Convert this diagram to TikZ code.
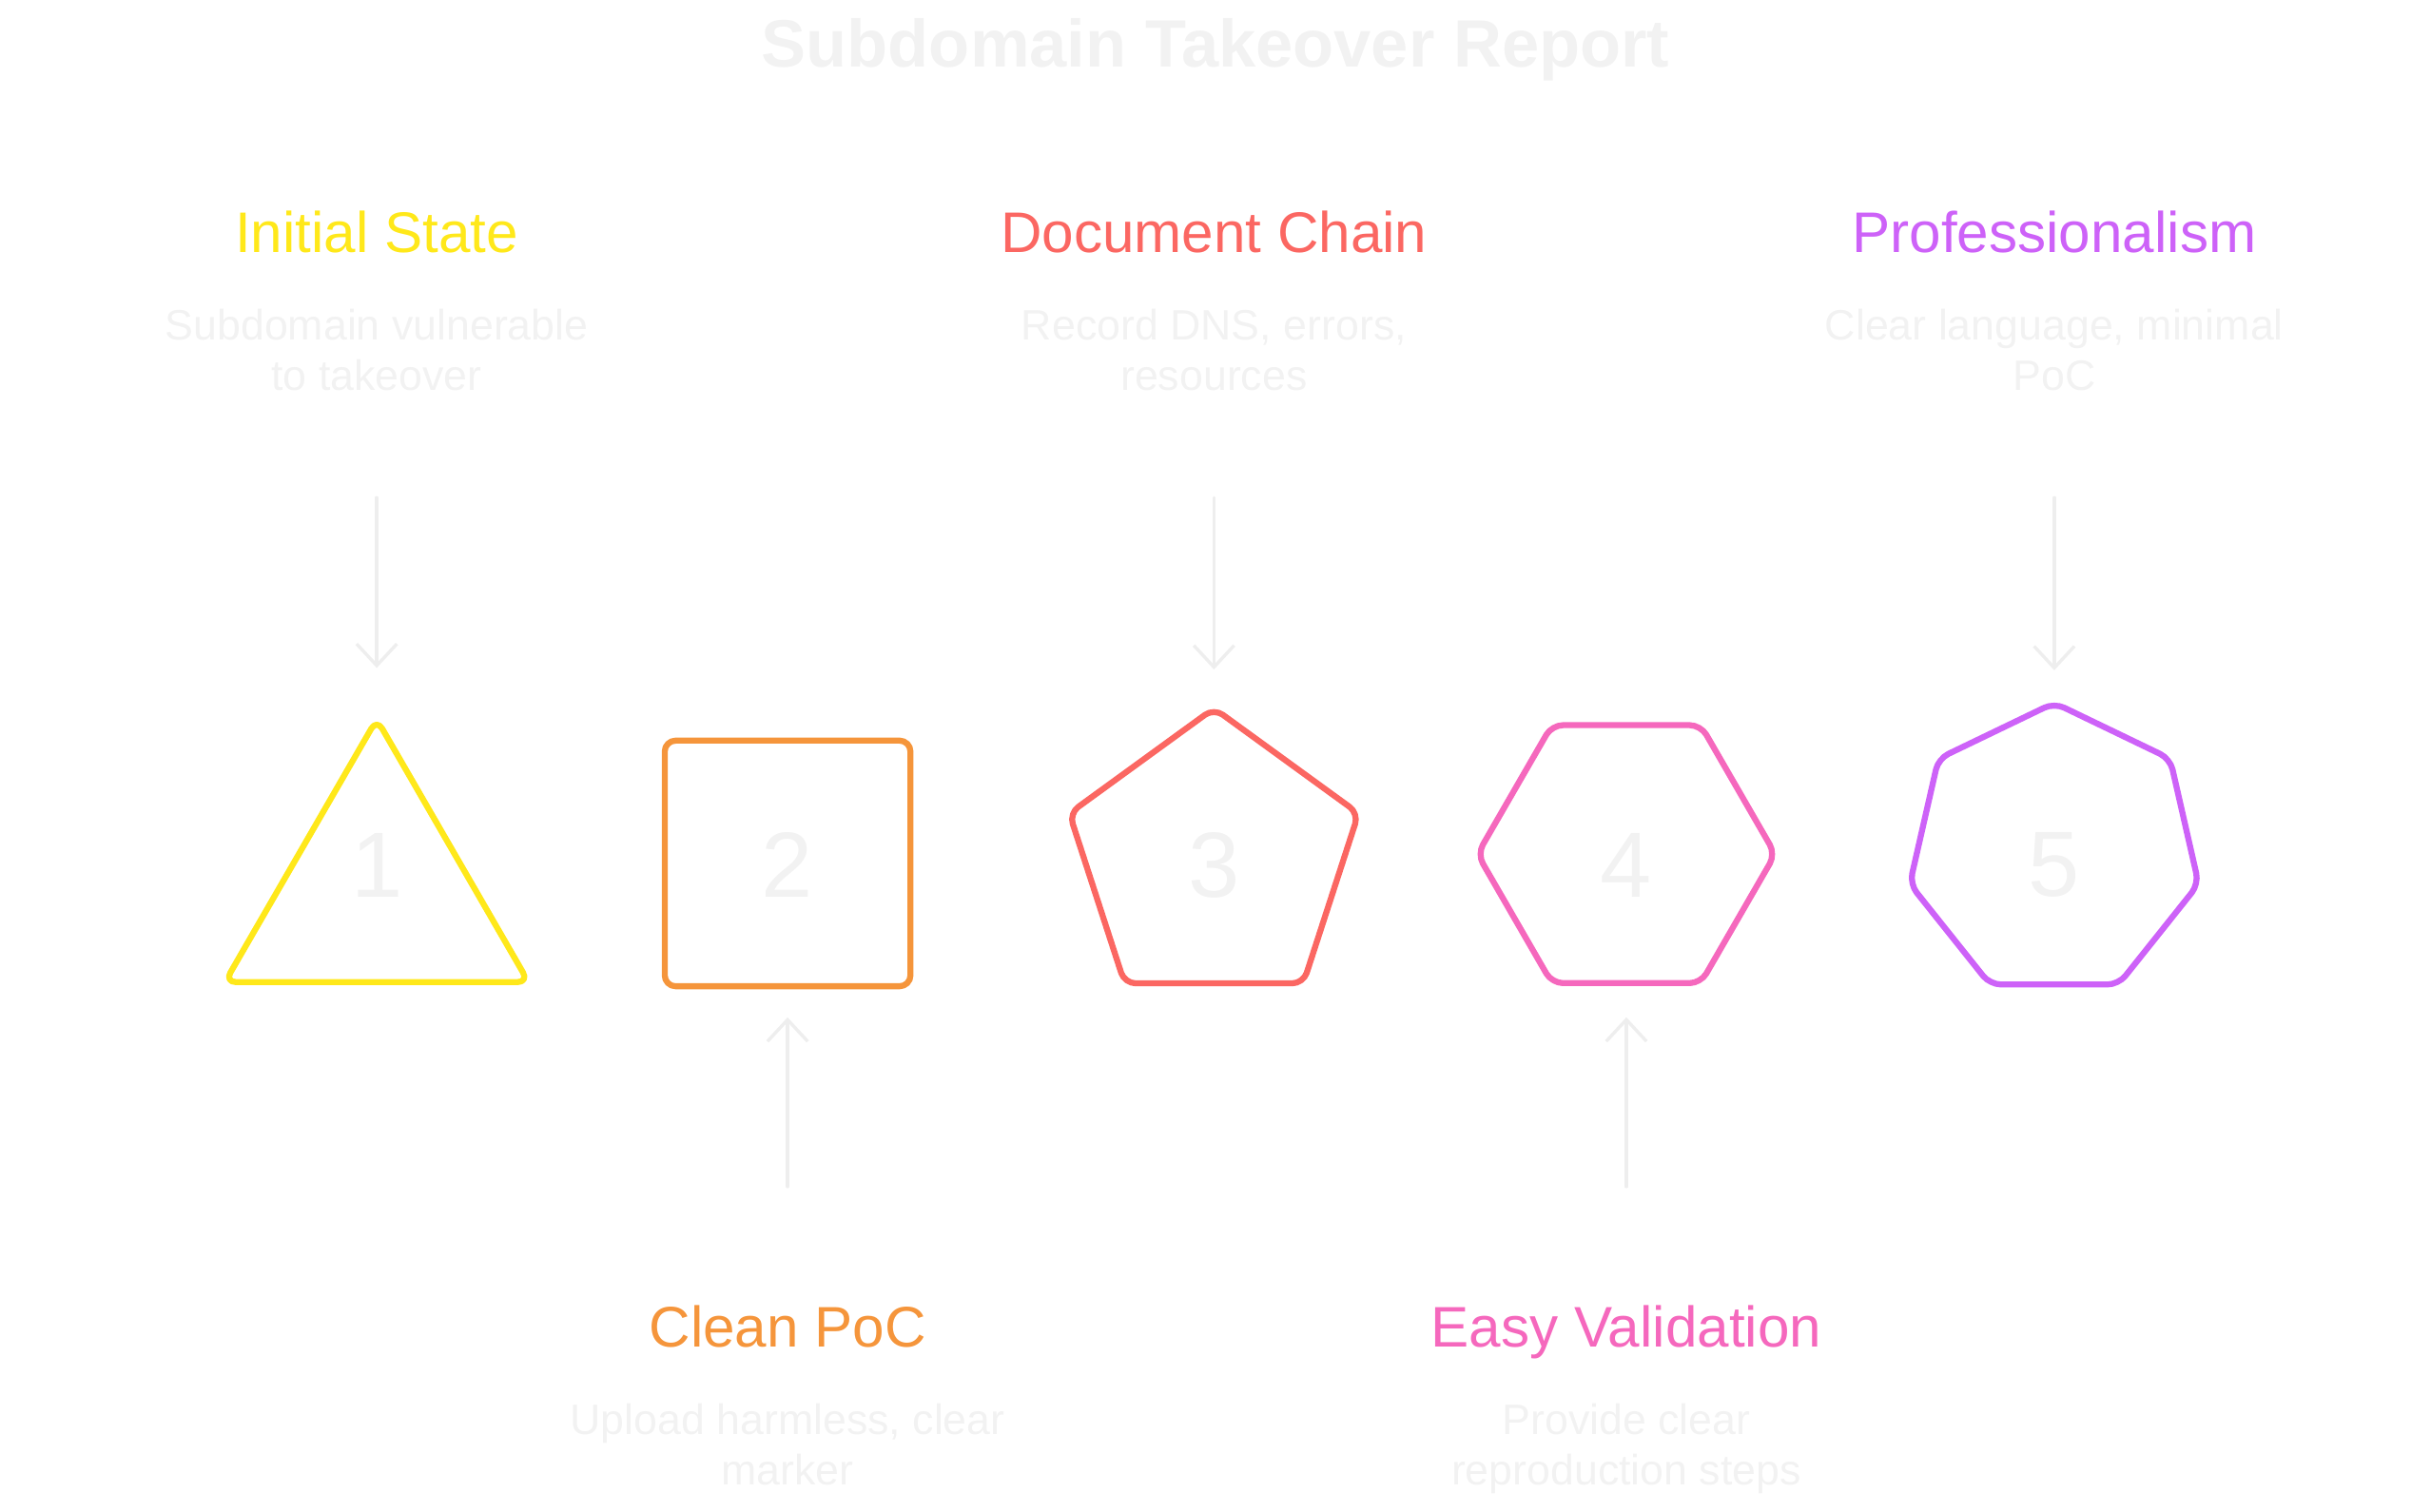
\documentclass[tikz,border=0pt]{standalone}
\usepackage{fontspec}
\setmainfont{Liberation Sans}
\usetikzlibrary{arrows.meta,shapes.geometric}
\definecolor{paleink}{HTML}{F2F2F2}
\definecolor{palearrow}{HTML}{EEEEEE}
\definecolor{stepyellow}{HTML}{FFE81A}
\definecolor{steporange}{HTML}{F5953B}
\definecolor{stepred}{HTML}{FB6762}
\definecolor{steppink}{HTML}{F568BD}
\definecolor{steppurple}{HTML}{CD62F8}

\begin{document}
\begin{tikzpicture}[x=0.01cm,y=-0.01cm,>={Straight Barb[length=1.4mm,width=2.6mm]},line join=round,
  heading/.style={anchor=base,inner sep=0pt,font=\fontsize{10.5}{12}\selectfont},
  note/.style={anchor=base,align=center,inner sep=0pt,text=paleink,font=\fontsize{7.8}{9.3}\selectfont},
  poly/.style={regular polygon,draw,line width=1.1pt,rounded corners=2pt,inner sep=0pt,outer sep=0pt},
  numeral/.style={text=paleink,font=\fontsize{17}{20}\selectfont},
  flow/.style={->,draw=palearrow,line width=0.6pt,line cap=round}]
\useasboundingbox (0,0) rectangle (1568,975);
\node[anchor=base,text=paleink,font=\bfseries\fontsize{12.3}{15}\selectfont] (title) at (784,43) {Subdomain Takeover Report};
% step 1: triangle, text above
\node[heading,text=stepyellow] (head1) at (243,163) {Initial State};
\node[note] (note1) at (243,252) {Subdomain vulnerable\\to takeover};
\node[poly,regular polygon sides=3,minimum size=2.26cm,draw=stepyellow] (shape1) at (243,577) {};
\node[numeral] (num1) at (243,558) {1};
\draw[flow,shorten <=0.68cm,shorten >=0.33cm] (note1.south) -- (shape1.north);
% step 2: square, text below
\node[poly,regular polygon sides=4,minimum size=2.24cm,draw=steporange] (shape2) at (508,557) {};
\node[numeral] (num2) at (508,558) {2};
\node[heading,text=steporange] (head2) at (508,869) {Clean PoC};
\node[note] (note2) at (508,958) {Upload harmless, clear\\marker};
\draw[flow,shorten <=0.76cm,shorten >=0.2cm] (head2.north) -- (shape2.south);
% step 3: pentagon, text above
\node[heading,text=stepred] (head3) at (783,163) {Document Chain};
\node[note] (note3) at (783,252) {Record DNS, errors,\\resources};
\node[poly,regular polygon sides=5,minimum size=1.96cm,draw=stepred] (shape3) at (783,555) {};
\node[numeral] (num3) at (783,558) {3};
\draw[flow,shorten <=0.68cm,shorten >=0.25cm] (note3.south) -- (shape3.north);
% step 4: hexagon, text below
\node[poly,regular polygon sides=6,minimum size=1.92cm,draw=steppink] (shape4) at (1049,551) {};
\node[numeral] (num4) at (1049,558) {4};
\node[heading,text=steppink] (head4) at (1049,869) {Easy Validation};
\node[note] (note4) at (1049,958) {Provide clear\\reproduction steps};
\draw[flow,shorten <=0.76cm,shorten >=0.22cm] (head4.north) -- (shape4.south);
% step 5: heptagon, text above
\node[heading,text=steppurple] (head5) at (1325,163) {Professionalism};
\node[note] (note5) at (1325,252) {Clear language, minimal\\PoC};
\node[poly,regular polygon sides=7,minimum size=1.91cm,draw=steppurple] (shape5) at (1325,549) {};
\node[numeral] (num5) at (1325,558) {5};
\draw[flow,shorten <=0.68cm,shorten >=0.21cm] (note5.south) -- (shape5.north);
\end{tikzpicture}
\end{document}
